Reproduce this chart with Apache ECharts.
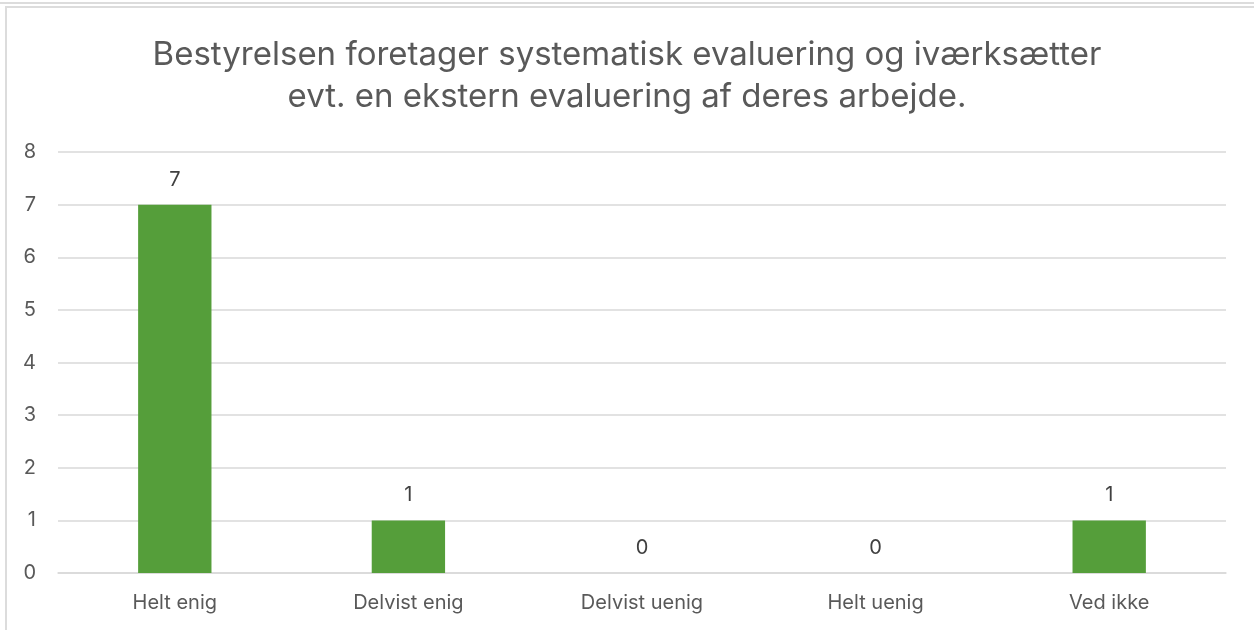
<!DOCTYPE html>
<html>
<head>
<meta charset="utf-8">
<script src="https://cdn.jsdelivr.net/npm/echarts@6/dist/echarts.min.js"></script>
<style>
  html, body { margin: 0; padding: 0; background: #fff; overflow: hidden; }
  .top-line { position: absolute; left: 0; top: 2px; width: 1254px; height: 0; border-top: 2px solid #dcdcdc; }
  .frame { position: absolute; left: 5px; top: 6px; width: 1260px; height: 640px; border: 2px solid #dcdcdc; box-sizing: border-box; }
  #chart { position: absolute; left: 0; top: 0; width: 1254px; height: 630px; }
</style>
</head>
<body>
<div class="top-line"></div>
<div class="frame"></div>
<div id="chart"></div>
<script>
const titleText = 'Bestyrelsen foretager systematisk evaluering og iværksætter\nevt. en ekstern evaluering af deres arbejde.'
const categories = ['Helt enig', 'Delvist enig', 'Delvist uenig', 'Helt uenig', 'Ved ikke']
const values = [7, 1, 0, 0, 1]

const chart = echarts.init(document.getElementById('chart'))

const option = {
  animation: false,
  backgroundColor: 'transparent',
  textStyle: { fontFamily: 'Inter, "Open Sans", sans-serif' },
  title: {
    text: titleText,
    left: 'center',
    top: 29,
    textStyle: {
      fontSize: 33,
      fontWeight: 'normal',
      color: '#595959',
      lineHeight: 42,
      fontFamily: 'Inter, "Open Sans", sans-serif'
    }
  },
  grid: {
    left: 58,
    right: 28,
    top: 152,
    bottom: 57,
    containLabel: false
  },
  xAxis: {
    type: 'category',
    data: categories,
    axisTick: { show: false },
    axisLine: { lineStyle: { color: '#d9d9d9', width: 1.5 } },
    axisLabel: { fontSize: 20, color: '#595959', margin: 20 }
  },
  yAxis: {
    type: 'value',
    min: 0,
    max: 8,
    interval: 1,
    axisLine: { show: false },
    axisTick: { show: false },
    axisLabel: { fontSize: 20, color: '#595959', margin: 22 },
    splitLine: { lineStyle: { color: '#d9d9d9', width: 1.5 } }
  },
  series: [{
    type: 'bar',
    data: values,
    barWidth: '31.4%',
    itemStyle: { color: '#559e3a' },
    label: {
      show: true,
      position: 'top',
      distance: 15,
      fontSize: 20,
      color: '#404040'
    }
  }]
}

chart.setOption(option)
</script>
</body>
</html>
